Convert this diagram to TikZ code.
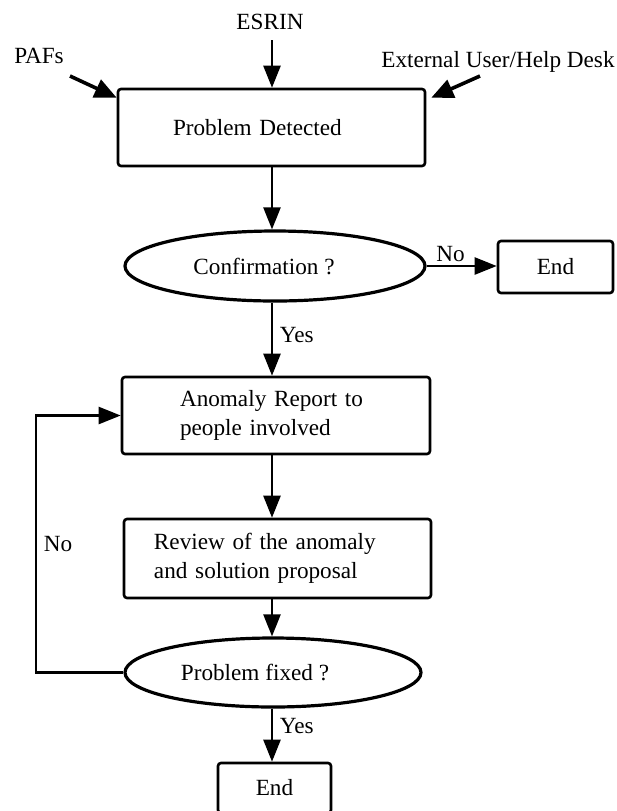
\documentclass[tikz,border=0pt]{standalone}
\usepackage{fontspec}
\setmainfont{Liberation Serif}
\usetikzlibrary{arrows.meta,shapes.geometric,calc}
\begin{document}
\begin{tikzpicture}[x=0.5pt,y=-0.5pt,
  font=\fontsize{11.6}{14.5}\selectfont,
  box/.style={draw,line width=1.3pt,rounded corners=1.5pt,inner ysep=0pt},
  dec/.style={draw,ellipse,line width=1.6pt,inner sep=0pt},
  arr/.style={line width=1.2pt,-{Triangle[length=11pt,width=8.5pt]}},
  darr/.style={line width=1.8pt,-{Triangle[length=11pt,width=9.5pt]}}]
\useasboundingbox (0,0) rectangle (617,811);
\clip (0,0) rectangle (617,811);

% labels
\node (esrin) at (270,22) {ESRIN};
\node (pafs) at (39,56) {PAFs};
\node (ext) at (498,62) {External User/Help Desk};

% boxes and decisions
\node[box, minimum height=38.5pt, inner xsep=27.5pt, text width=98.5pt, align=left] (pd) at (271.5,127.5) {Problem Detected};
\node[dec, minimum width=150pt, minimum height=35pt] (conf) at (275,266) {Confirmation ?\hspace*{11pt}};
\node[box, minimum width=57.5pt, minimum height=26pt] (end1) at (555.5,267) {End};
\node[box, minimum height=38.5pt, inner xsep=29pt, text width=96pt, align=left] (an) at (276,415.5) {\raisebox{0pt}[\height][0pt]{}Anomaly Report to\\people involved};
\node[box, minimum height=39.5pt, inner xsep=15pt, text width=123.5pt, align=left] (rv) at (277.5,558.5) {Review of the anomaly\\and solution proposal};
\node[dec, minimum width=148pt, minimum height=34.5pt] (fx) at (273,672.5) {Problem fixed ?\hspace*{18pt}};
\node[box, minimum width=56.5pt, minimum height=25pt] (end2) at (274.5,788) {End};

% helper coordinates
\coordinate (col) at (272,0);
\coordinate (lp) at (36,0);
\coordinate (esrinS) at (272,40);
\coordinate (pafsS) at (70,76);
\coordinate (extS) at (480,76);

% connectors
\draw[arr] (esrinS) -- (col |- pd.north);
\draw[darr] (pafsS) -- ([yshift=-5pt]pd.north west);
\draw[darr] (extS) -- ([xshift=2.5pt,yshift=-5pt]pd.north east);
\draw[arr] (col |- pd.south) -- (col |- conf.north);
\draw[arr] (conf.east) -- node[above, pos=0.34, inner sep=1.5pt]{No} (conf.east -| end1.west);
\draw[arr] (col |- conf.south) -- node[right, pos=0.45]{Yes} (col |- an.north);
\draw[arr] (col |- an.south) -- (col |- rv.north);
\draw[arr] (col |- rv.south) -- (col |- fx.north);
\draw[arr] (col |- fx.south) -- node[right, pos=0.32]{Yes} (col |- end2.north);
\draw[arr] (fx.west) -- (fx.west -| lp) |- node[right, pos=0.25]{No} (an.west);
\end{tikzpicture}
\end{document}
